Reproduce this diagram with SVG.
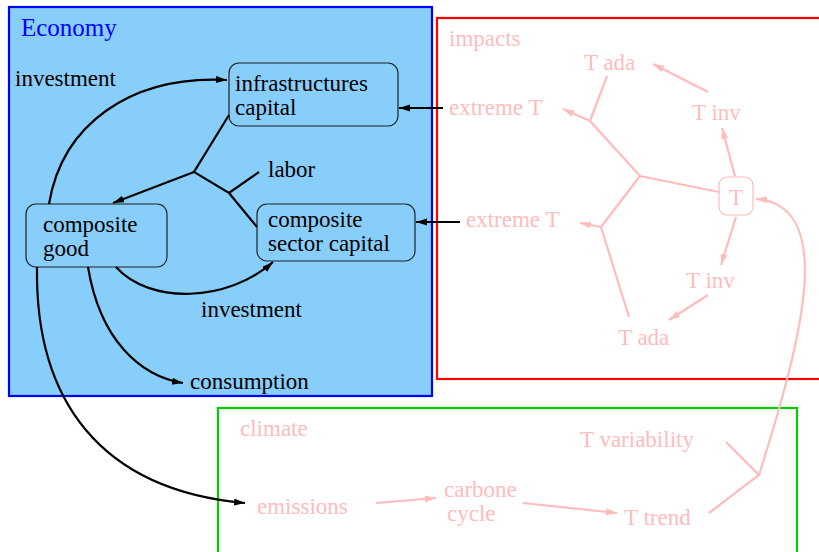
<svg xmlns="http://www.w3.org/2000/svg" width="819" height="552" viewBox="0 0 819 552" font-family="'Liberation Serif', 'DejaVu Serif', serif">
  <style>
    text { font-family: "Liberation Serif", "DejaVu Serif", serif; font-size: 23px; }
    .dark { fill: #000000; }
    .pale { fill: #ffbcbc; }
    .title-eco { fill: #0000ff; font-size: 25px; }
    .node-eco { fill: #87cefa; stroke: #202020; stroke-width: 1.2; }
    .node-pale { fill: #ffffff; stroke: #ffbcbc; stroke-width: 1.2; }
    .link { fill: none; stroke: #000000; stroke-width: 2.2; }
    .link-pale { fill: none; stroke: #ffbcbc; stroke-width: 2.2; }
  </style>
  <defs>
    <marker id="arrow" markerUnits="userSpaceOnUse" markerWidth="12" markerHeight="8" refX="11" refY="3.5" orient="auto">
      <path d="M0,0 L11,3.5 L0,7 z" fill="#000000"/>
    </marker>
    <marker id="arrow-pale" markerUnits="userSpaceOnUse" markerWidth="12" markerHeight="8" refX="11" refY="3.5" orient="auto">
      <path d="M0,0 L11,3.5 L0,7 z" fill="#ffbcbc"/>
    </marker>
  </defs>

  <!-- sector frames -->
  <g id="economy">
    <rect x="9" y="7" width="423" height="389" fill="#87cefa" stroke="#0000ff" stroke-width="2.2"/>
    <text class="title-eco" x="21" y="36">Economy</text>
  </g>
  <g id="impacts">
    <rect x="437" y="18" width="390" height="361" fill="#ffffff" stroke="#ff0000" stroke-width="2.2"/>
    <text class="pale" x="449" y="46">impacts</text>
  </g>
  <g id="climate">
    <rect x="218" y="408" width="579" height="160" fill="#ffffff" stroke="#00cc00" stroke-width="2.2"/>
    <text class="pale" x="240" y="436">climate</text>
  </g>

  <!-- economy nodes -->
  <g id="infrastructures-capital">
    <rect class="node-eco" x="229" y="63" width="169" height="63" rx="10"/>
    <text class="dark" x="235" y="91">infrastructures</text>
    <text class="dark" x="235" y="115">capital</text>
  </g>
  <g id="composite-good">
    <rect class="node-eco" x="26" y="204" width="141" height="63" rx="10"/>
    <text class="dark" x="43" y="232">composite</text>
    <text class="dark" x="43" y="256">good</text>
  </g>
  <g id="composite-sector-capital">
    <rect class="node-eco" x="257" y="204" width="158" height="57" rx="10"/>
    <text class="dark" x="268" y="227">composite</text>
    <text class="dark" x="268" y="251">sector capital</text>
  </g>
  <g id="labor"><text class="dark" x="268" y="177">labor</text></g>
  <g id="investment-infra"><text class="dark" x="15" y="86">investment</text></g>
  <g id="investment-sector"><text class="dark" x="201" y="317">investment</text></g>
  <g id="consumption"><text class="dark" x="190" y="389">consumption</text></g>

  <!-- impacts nodes -->
  <g id="extreme-t-infra"><text class="pale" x="449" y="115">extreme T</text></g>
  <g id="extreme-t-sector"><text class="pale" x="466" y="227">extreme T</text></g>
  <g id="t-ada-upper"><text class="pale" x="584" y="70">T ada</text></g>
  <g id="t-inv-upper"><text class="pale" x="692" y="120">T inv</text></g>
  <g id="t-inv-lower"><text class="pale" x="686" y="288">T inv</text></g>
  <g id="t-ada-lower"><text class="pale" x="618" y="345">T ada</text></g>
  <g id="temperature">
    <rect class="node-pale" x="719" y="177" width="34" height="38" rx="8"/>
    <text class="pale" x="736" y="205" text-anchor="middle">T</text>
  </g>

  <!-- climate nodes -->
  <g id="emissions"><text class="pale" x="257" y="514">emissions</text></g>
  <g id="carbone-cycle">
    <text class="pale" x="444" y="497">carbone</text>
    <text class="pale" x="447" y="521">cycle</text>
  </g>
  <g id="t-trend"><text class="pale" x="624" y="525">T trend</text></g>
  <g id="t-variability"><text class="pale" x="580" y="447">T variability</text></g>

  <!-- connectors -->
  <g id="connectors">
    <!-- economy flows -->
    <path class="link" d="M49,204 C62,125 130,75 227,80" marker-end="url(#arrow)"/>
    <path class="link" d="M229,115 L194,172 L229,193 L259,172"/>
    <path class="link" d="M229,193 L257,227"/>
    <path class="link" d="M194,172 L113,203" marker-end="url(#arrow)"/>
    <path class="link" d="M116,267 C150,305 228,302 273,262" marker-end="url(#arrow)"/>
    <path class="link" d="M88,267 C100,340 140,376 183,383" marker-end="url(#arrow)"/>
    <path class="link" d="M37,267 C35,400 100,490 245,503" marker-end="url(#arrow)"/>
    <path class="link" d="M443,108 L399,108" marker-end="url(#arrow)"/>
    <path class="link" d="M460,222 L416,222" marker-end="url(#arrow)"/>

    <!-- impacts chain -->
    <path class="link-pale" d="M719,192 L640,176 L590,121"/>
    <path class="link-pale" d="M607,76 L590,121"/>
    <path class="link-pale" d="M590,121 L563,109" marker-end="url(#arrow-pale)"/>
    <path class="link-pale" d="M640,176 L601,227 L629,317"/>
    <path class="link-pale" d="M601,227 L580,223" marker-end="url(#arrow-pale)"/>
    <path class="link-pale" d="M735,176 L722,128" marker-end="url(#arrow-pale)"/>
    <path class="link-pale" d="M708,92 L653,64" marker-end="url(#arrow-pale)"/>
    <path class="link-pale" d="M736,217 L721,265" marker-end="url(#arrow-pale)"/>
    <path class="link-pale" d="M708,295 L669,320" marker-end="url(#arrow-pale)"/>

    <!-- climate chain -->
    <path class="link-pale" d="M376,503 L436,498" marker-end="url(#arrow-pale)"/>
    <path class="link-pale" d="M523,503 L617,513" marker-end="url(#arrow-pale)"/>
    <path class="link-pale" d="M709,513 L759,475 L726,442"/>
    <path class="link-pale" d="M759,475 C805,330 835,205 756,199" marker-end="url(#arrow-pale)"/>
  </g>
</svg>
